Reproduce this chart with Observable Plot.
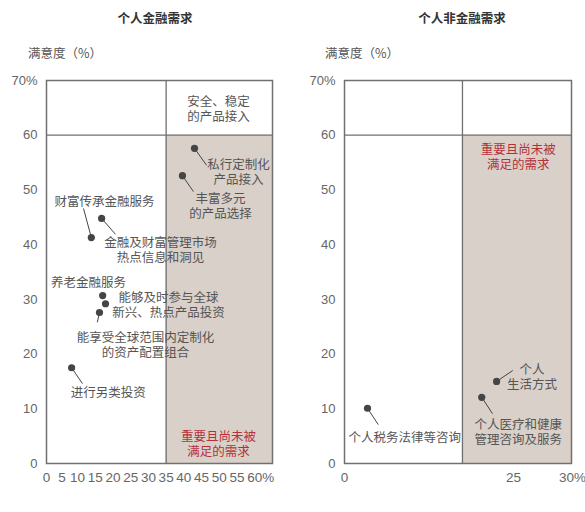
<!DOCTYPE html>
<html><head><meta charset="utf-8">
<script src="https://cdn.jsdelivr.net/npm/d3@7"></script>
<script src="https://cdn.jsdelivr.net/npm/@observablehq/plot@0.6"></script>
<style>
body{margin:0;background:#fff;}
#wrap{position:relative;width:585px;height:512px;overflow:hidden;font-family:"Noto Sans CJK SC","Noto Sans",sans-serif;color:#555;}
.t{position:absolute;white-space:nowrap;line-height:1;}
.title{font-weight:bold;font-size:12.5px;color:#333;transform:translateX(-50%);}
.ylab{font-size:12.5px;}
.xlab{font-size:12.5px;transform:translateX(-50%);}
.panel{position:absolute;top:60px;}
g[aria-label="x-tick-label"] text{letter-spacing:-0.6px;}
</style></head>
<body><div id="wrap">
<div class="t title" style="left:155px;top:12px">个人金融需求</div>
<div class="t title" style="left:462px;top:12px">个人非金融需求</div>
<div class="t ylab" style="left:28px;top:47px">满意度（%）</div>
<div class="t ylab" style="left:325px;top:47px">满意度（%）</div>
<div class="t xlab" style="left:160px;top:497px">重要性*（%）</div>
<div class="t xlab" style="left:462px;top:497px">重要性*（%）</div>
<div id="left" class="panel" style="left:0px"></div>
<div id="right" class="panel" style="left:292px"></div>
</div>
<script>
// ---- Data: personal financial needs ----
const finNames = ["私行定制化产品接入","丰富多元的产品选择","财富传承金融服务","金融及财富管理市场热点信息和洞见","养老金融服务","能够及时参与全球新兴、热点产品投资","能享受全球范围内定制化的资产配置组合","进行另类投资"];
const finImportance = [43.0, 39.6, 13.9, 16.8, 17.1, 17.9, 16.2, 8.1];
const finSatisfaction = [57.6, 52.6, 41.3, 44.8, 30.7, 29.2, 27.6, 17.5];

// ---- Data: personal non-financial needs ----
const nonNames = ["个人税务法律等咨询","个人医疗和健康管理咨询及服务","个人生活方式"];
const nonImportance = [3.4, 20.3, 22.5];
const nonSatisfaction = [10.1, 12.1, 15.0];

// ---- Axis ticks ----
const yTicks = [0,10,20,30,40,50,60,70];
const finXTicks = [0,5,10,15,20,25,30,35,40,45,50,55,60];
const nonXTicks = [0,25,30];

// thresholds
const finImportanceCut = 35, nonImportanceCut = 17.45, satisfactionCut = 60;

// ---- Label placement (data units) ----
const finLabels = [
  {text:"私行定制化\n产品接入", x:55.4, y:53.3, lx:46.4, ly:54.5, i:0},
  {text:"丰富多元\n的产品选择", x:50.3, y:47.2, lx:42.7, ly:49.7, i:1},
  {text:"财富传承金融服务", x:17.6, y:47.9, lx:11.7, ly:46.6, i:2},
  {text:"金融及财富管理市场\n热点信息和洞见", x:33.4, y:39.1, lx:20.7, ly:41.9, i:3},
  {text:"养老金融服务", x:13.1, y:33.1, i:4},
  {text:"能够及时参与全球\n新兴、热点产品投资", x:35.7, y:29.1, i:5},
  {text:"能享受全球范围内定制化\n的资产配置组合", x:29.2, y:21.8, lx:15.6, ly:25.8, i:6},
  {text:"进行另类投资", x:18.7, y:13.0, lx:11.4, ly:14.6, i:7}
];
const finBoxLabels = [
  {text:"安全、稳定\n的产品接入", x:49.8, y:64.8, red:false},
  {text:"重要且尚未被\n满足的需求", x:49.8, y:3.6, red:true}
];
const nonLabels = [
  {text:"个人税务法律等咨询", x:8.9, y:4.9, lx:5.0, ly:7.1, i:0},
  {text:"个人医疗和健康\n管理咨询及服务", x:25.4, y:5.8, lx:21.9, ly:9.1, i:1},
  {text:"个人\n生活方式", x:26.6, y:15.8, lx:24.9, ly:17.0, i:2}
];
const nonBoxLabels = [
  {text:"重要且尚未被\n满足的需求", x:25.4, y:56.0, red:true}
];

const SHADE = "#d9d0c9", LINE = "#707070", DOT = "#454545", TXT = "#555", RED = "#b5303a";
const CJK = "Noto Sans CJK SC";
const NUMFONT = "'Liberation Sans', sans-serif";
const NARROW = "'Liberation Sans Narrow', 'Liberation Sans', sans-serif";

// piecewise-linear axis (as drawn in the original): knots in value space -> relative axis units
function piecewise(knots, units) {
  const s = d3.scaleLinear().domain(knots).range(units);
  return v => s(v);
}

function panel({names, imp, sat, knots, units, width, marginLeft, marginRight, xTicks, lastDx, cut, labels, boxLabels}) {
  const pts = names.map((n,k)=>({name:n, x:imp[k], y:sat[k]}));
  const leaders = labels.filter(d=>d.lx!==undefined).map(d=>({x1:pts[d.i].x, y1:pts[d.i].y, x2:d.lx, y2:d.ly}));
  const xMax = knots[knots.length-1];
  const last = xTicks[xTicks.length-1];
  const tickOpts = {x: d => d, frameAnchor: "bottom", dy: 14, lineAnchor: "middle",
        fill: "#666", fontSize: 13.5, fontFamily: NARROW, ariaLabel: "x-tick-label"};
  return Plot.plot({
    width, height: 452,
    marginTop: 20, marginBottom: 49, marginLeft, marginRight,
    style: {fontFamily: NUMFONT, fontSize: "13px", color: "#666", background: "#fff"},
    x: {type: "linear", transform: piecewise(knots, units), domain: [units[0], units[units.length-1]], axis: null},
    y: {domain: [0,70], ticks: yTicks, tickSize: 0, tickPadding: 9, label: null,
        tickFormat: d => d === 70 ? "70%" : String(d)},
    marks: [
      Plot.rect([0], {x1: cut, x2: xMax, y1: 0, y2: satisfactionCut, fill: SHADE}),
      Plot.ruleX([cut], {y1: 0, y2: 70, stroke: LINE, strokeWidth: 1.3}),
      Plot.ruleY([satisfactionCut], {stroke: LINE, strokeWidth: 1.3}),
      Plot.frame({stroke: LINE, strokeWidth: 1.5}),
      // x tick labels (positioned through the piecewise x scale)
      Plot.text(xTicks.slice(0, -1), {...tickOpts, text: d => String(d)}),
      Plot.text([last], {...tickOpts, text: d => d + "%", dx: lastDx}),
      Plot.link(leaders, {x1:"x1", y1:"y1", x2:"x2", y2:"y2", stroke: "#444", strokeWidth: 1}),
      Plot.dot(pts, {x:"x", y:"y", r: 3.6, fill: DOT}),
      Plot.text(labels, {x:"x", y:"y", text:"text", fill: TXT, fontSize: 12.5, fontFamily: CJK, lineAnchor:"middle", lineHeight: 1.2}),
      Plot.text(boxLabels, {x:"x", y:"y", text:"text", fill: d => d.red ? RED : TXT, fontSize: 12.5, fontFamily: CJK, lineAnchor:"middle", lineHeight: 1.2})
    ]
  });
}

document.getElementById("left").append(panel({
  names: finNames, imp: finImportance, sat: finSatisfaction,
  knots: [0,10,65], units: [0,31,226], width: 290, marginLeft: 46, marginRight: 18,
  xTicks: finXTicks, lastDx: 6, cut: finImportanceCut, labels: finLabels, boxLabels: finBoxLabels
}));
document.getElementById("right").append(panel({
  names: nonNames, imp: nonImportance, sat: nonSatisfaction,
  knots: [0,25,30], units: [0,169,227], width: 293, marginLeft: 52, marginRight: 14,
  xTicks: nonXTicks, lastDx: 1, cut: nonImportanceCut, labels: nonLabels, boxLabels: nonBoxLabels
}));
</script></body></html>
